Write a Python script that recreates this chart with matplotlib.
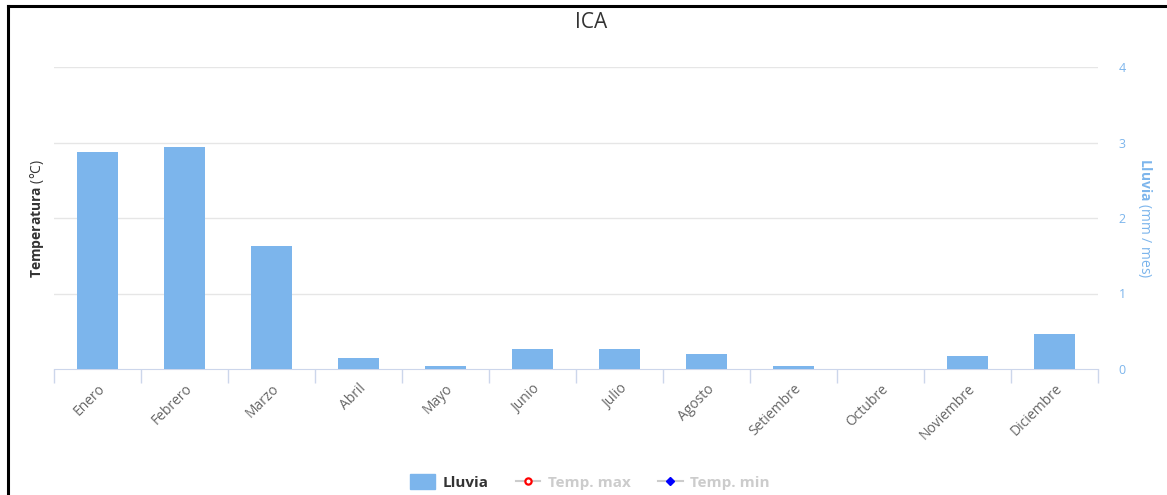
import numpy as np
import matplotlib
matplotlib.use("Agg")
import matplotlib.pyplot as plt
from matplotlib.patches import Patch
from matplotlib.lines import Line2D

meses = ["Enero", "Febrero", "Marzo", "Abril", "Mayo", "Junio", "Julio",
         "Agosto", "Setiembre", "Octubre", "Noviembre", "Diciembre"]
lluvia = [2.87, 2.94, 1.63, 0.15, 0.04, 0.26, 0.26, 0.20, 0.04, 0.0, 0.17, 0.46]
lluvia_ticks = [0, 1, 2, 3, 4]

plt.rcParams['font.family'] = ['Open Sans', 'DejaVu Sans']
plt.rcParams['mathtext.fontset'] = 'custom'
plt.rcParams['mathtext.bf'] = 'Open Sans:bold'
plt.rcParams['mathtext.rm'] = 'Open Sans'

azul = '#7cb5ec'
W, H = 1167, 495
fig = plt.figure(figsize=(W / 100, H / 100), dpi=100)

# area de la grafica (en pixeles de la imagen)
x0, x1, ytop, ybot = 54, 1098, 67, 369
ax = fig.add_axes([x0 / W, 1 - ybot / H, (x1 - x0) / W, (ybot - ytop) / H])
ax2 = ax.twinx()

x = np.arange(len(meses))
ax2.bar(x, lluvia, width=0.47, color=azul, zorder=3)
ax2.set_ylim(0, 4)
ax2.set_yticks(lluvia_ticks)
ax2.tick_params(axis='y', length=0, pad=15, labelcolor=azul, labelsize=9)
ax.set_ylim(0, 4)
ax.set_yticks(lluvia_ticks[1:])
ax.tick_params(axis='y', length=0, labelleft=False)
ax.yaxis.grid(True, color='#e6e6e6', lw=1)
ax.set_axisbelow(True)
ax.set_xlim(-0.5, len(meses) - 0.5)

ax.set_xticks(x)
ax.set_xticklabels(meses, rotation=45, ha='right', rotation_mode='anchor',
                   fontsize=10, color='#666666')
ax.tick_params(axis='x', length=0, pad=9)
ax.set_xticks(np.arange(-0.5, len(meses)), minor=True)
ax.tick_params(axis='x', which='minor', length=10, color='#ccd6eb', width=1)

for a in (ax, ax2):
    for s in ('top', 'left', 'right'):
        a.spines[s].set_visible(False)
ax2.spines['bottom'].set_visible(False)
ax.spines['bottom'].set_color('#ccd6eb')

ax.set_ylabel(r"$\bf{Temperatura}$ (°C)", color='#333333', fontsize=10,
              va='center')
ax.yaxis.set_label_coords((37 - x0) / (x1 - x0), (ybot - 218) / (ybot - ytop))
ax2.set_ylabel(r"$\bf{Lluvia}$ (mm / mes)", color=azul, fontsize=10,
               rotation=270, va='center')
ax2.yaxis.set_label_coords((1145 - x0) / (x1 - x0), (ybot - 218) / (ybot - ytop))

fig.text(591 / W, 1 - 22 / H, "ICA", ha='center', va='center', fontsize=15,
         color='#333333')

handles = [Patch(color=azul),
           Line2D([], [], color='#cccccc', marker='o', mfc='white', mec='red',
                  ms=4.5, mew=1.6),
           Line2D([], [], color='#cccccc', marker='D', mfc='blue', mec='blue', ms=4)]
leg = fig.legend(handles, ["Lluvia", "Temp. max", "Temp. min"], loc='center',
                 bbox_to_anchor=(590 / W, 1 - 482 / H), ncol=3, frameon=False,
                 fontsize=11, handlelength=1.6, handleheight=1.1,
                 columnspacing=1.8, handletextpad=0.5)
cols = ['#333333', '#cccccc', '#cccccc']
for t, c in zip(leg.get_texts(), cols):
    t.set_color(c)
    t.set_fontweight('bold')

# marco negro de la captura
fig.add_artist(Line2D([8 / W, 8 / W], [0, 1 - 6 / H], color='black', lw=2.2))
fig.add_artist(Line2D([8 / W, 1], [1 - 6 / H, 1 - 6 / H], color='black', lw=2.2))

fig.savefig("out.png", dpi=100)
